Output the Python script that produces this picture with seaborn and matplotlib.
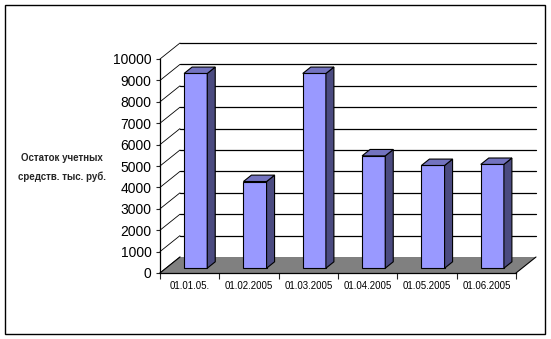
import matplotlib
matplotlib.use("Agg")
import matplotlib.pyplot as plt
import matplotlib.patches as mpatches
from matplotlib.transforms import offset_copy
import seaborn as sns
import pandas as pd

# ---- data ----
dates = ["01.01.05.", "01.02.2005", "01.03.2005", "01.04.2005", "01.05.2005", "01.06.2005"]
values = [9100, 4050, 9100, 5250, 4800, 4850]
y_ticks = list(range(0, 10001, 1000))
y_label = "Остаток учетных\nсредств. тыс. руб."

sns.set_theme(style="white")
plt.rcParams["font.family"] = ["Liberation Sans", "DejaVu Sans"]

W, H = 551, 339
fig = plt.figure(figsize=(W / 100, H / 100), dpi=100)
fig.patch.set_facecolor("white")

# front plane of the axes (pixel geometry)
x_left, x_right = 160, 516
y_bottom, y_top = 273, 59
ax = fig.add_axes([x_left / W, 1 - y_bottom / H, (x_right - x_left) / W, (y_bottom - y_top) / H])
ax.set_facecolor("none")

df = pd.DataFrame({"date": dates, "value": values})
sns.barplot(data=df, x="date", y="value", color="#9999FF", width=0.39,
            edgecolor="black", linewidth=0.8, saturation=1, ax=ax, zorder=4)

ax.set_xlim(-0.5, len(dates) - 0.5)
ax.set_ylim(0, 10000)

# pixel -> data scale
sx = (x_right - x_left) / (len(dates))        # px per category
sy = (y_bottom - y_top) / 10000.0             # px per unit
DPX, DPY = 20, 16                              # depth offset in px
Dx, Dy = DPX / sx, DPY / sy                    # depth offset in data units

# back wall gridlines and left wall diagonals
for v in y_ticks:
    if v > 0:
        ax.plot([-0.5 + Dx, len(dates) - 0.5 + Dx], [v + Dy, v + Dy],
                color="black", lw=0.9, clip_on=False, zorder=1)
    ax.plot([-0.5, -0.5 + Dx], [v, v + Dy], color="black", lw=0.6,
            clip_on=False, zorder=1)

# floor
xr = len(dates) - 0.5
floor = mpatches.Polygon([(-0.5, 0), (xr, 0), (xr + Dx, Dy), (-0.5 + Dx, Dy)],
                         closed=True, facecolor="#808080", edgecolor="none",
                         clip_on=False, zorder=2)
ax.add_patch(floor)
ax.plot([-0.5, -0.5 + Dx], [0, Dy], color="black", lw=0.8, clip_on=False, zorder=3)
ax.plot([xr, xr + Dx], [0, Dy], color="black", lw=0.8, clip_on=False, zorder=3)

# shift bars into depth and add side/top faces
f0, fd = 0.3, 0.4
shift = offset_copy(ax.transData, fig=fig, x=f0 * DPX, y=f0 * DPY, units="dots")
ddx, ddy = fd * Dx, fd * Dy
for p in list(ax.patches):
    if not isinstance(p, mpatches.Rectangle):
        continue
    x0, w, h = p.get_x(), p.get_width(), p.get_height()
    p.set_transform(shift)
    p.set_clip_on(False)
    side = mpatches.Polygon([(x0 + w, 0), (x0 + w, h), (x0 + w + ddx, h + ddy), (x0 + w + ddx, ddy)],
                            closed=True, facecolor="#4B4B80", edgecolor="black", lw=0.8,
                            transform=shift, clip_on=False, zorder=4)
    top = mpatches.Polygon([(x0, h), (x0 + w, h), (x0 + w + ddx, h + ddy), (x0 + ddx, h + ddy)],
                           closed=True, facecolor="#7373BF", edgecolor="black", lw=0.8,
                           transform=shift, clip_on=False, zorder=4)
    ax.add_patch(side)
    ax.add_patch(top)

# axes styling
for s in ["top", "right"]:
    ax.spines[s].set_visible(False)
for s in ["left", "bottom"]:
    ax.spines[s].set_color("black")
    ax.spines[s].set_linewidth(0.9)
    ax.spines[s].set_zorder(5)

ax.set_yticks(y_ticks)
ax.set_yticklabels([str(v) for v in y_ticks], fontsize=10, color="black")
ax.tick_params(axis="y", which="major", direction="out", length=3, width=0.8, pad=3, left=True)

ax.set_xticks(range(len(dates)))
ax.set_xticklabels(dates, fontsize=7, color="black")
ax.set_xticks([i - 0.5 for i in range(len(dates) + 1)], minor=True)
ax.tick_params(axis="x", which="major", length=0, pad=6)
ax.tick_params(axis="x", which="minor", direction="out", length=4, width=0.8, bottom=True)
ax.set_xlabel("")
ax.set_ylabel("")
ax.grid(False)

fig.text(62 / W, 1 - 167.5 / H, y_label, ha="center", va="center",
         fontsize=7, fontweight="bold", linespacing=2.0)

# outer border
fig.patches.append(mpatches.Rectangle((4.5 / W, 1 - 334 / H), (545 - 4.5) / W, (334 - 4.5) / H,
                                      transform=fig.transFigure, fill=False,
                                      edgecolor="black", linewidth=1.0))

fig.savefig("out.png", dpi=100)
